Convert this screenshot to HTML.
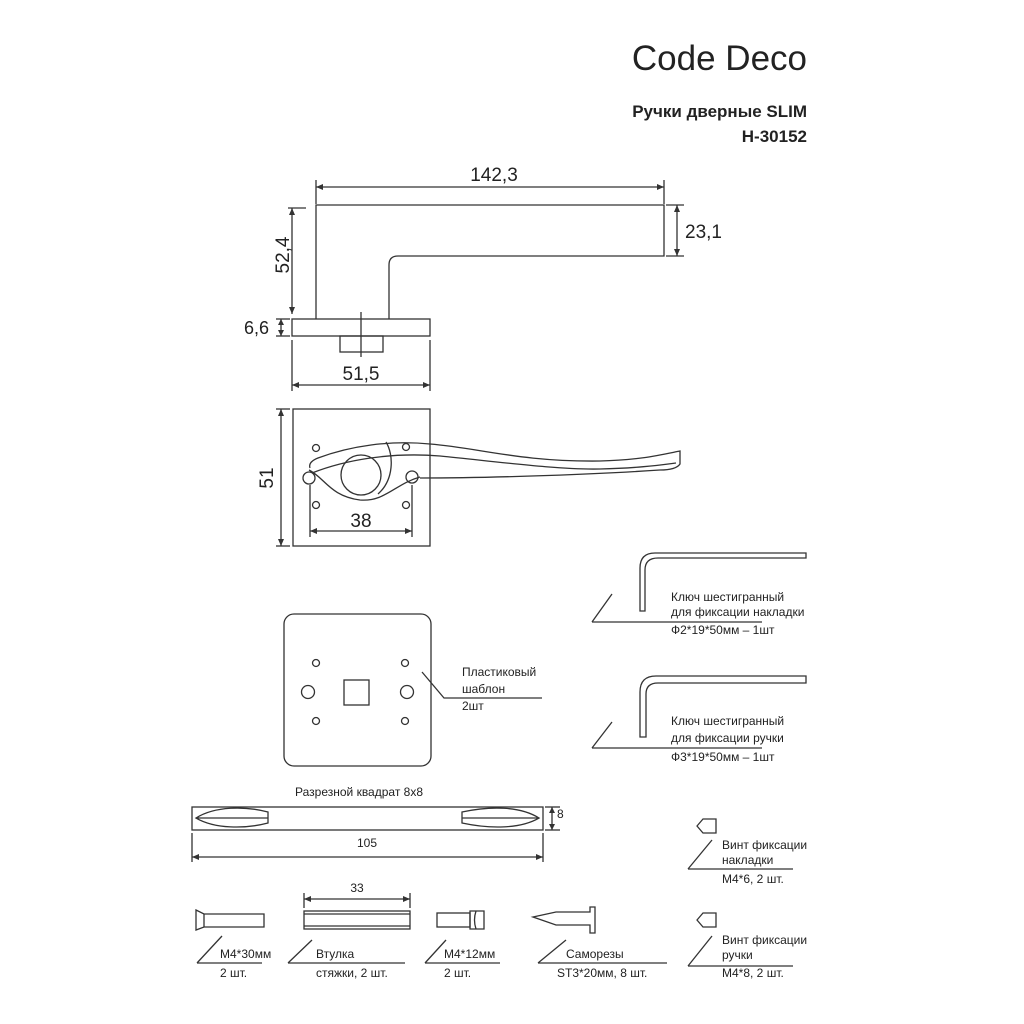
<!DOCTYPE html>
<html><head><meta charset="utf-8"><style>
html,body{margin:0;padding:0;background:#fff}
svg{display:block}
text{font-family:"Liberation Sans",sans-serif;fill:#222}
</style></head><body>
<svg width="1024" height="1024" viewBox="0 0 1024 1024" xmlns="http://www.w3.org/2000/svg">
<g fill="none" stroke="#333" stroke-width="1.3">
<path d="M316,319 V205 H664 V256 H398 Q389,256 389,265 V319"/>
<rect x="292" y="319" width="138" height="17"/>
<rect x="340" y="336" width="43" height="16"/>
<line x1="361" y1="312" x2="361" y2="357"/>
<line x1="316" y1="180" x2="316" y2="204"/><line x1="664" y1="180" x2="664" y2="204"/>
<line x1="316" y1="187" x2="664" y2="187"/>
<line x1="666" y1="205" x2="684" y2="205"/><line x1="666" y1="256" x2="684" y2="256"/>
<line x1="677" y1="205" x2="677" y2="256"/>
<line x1="288" y1="208" x2="306" y2="208"/>
<line x1="292" y1="208" x2="292" y2="314"/>
<line x1="276" y1="319" x2="290" y2="319"/><line x1="276" y1="336" x2="290" y2="336"/>
<line x1="281" y1="319" x2="281" y2="336"/>
<line x1="292" y1="340" x2="292" y2="391"/><line x1="430" y1="340" x2="430" y2="391"/>
<line x1="292" y1="385" x2="430" y2="385"/>
<rect x="293" y="409" width="137" height="137"/>
<line x1="276" y1="409" x2="290" y2="409"/><line x1="276" y1="546" x2="290" y2="546"/>
<line x1="281" y1="409" x2="281" y2="546"/>
<circle cx="316" cy="448" r="3.5"/><circle cx="406" cy="447" r="3.5"/>
<circle cx="316" cy="505" r="3.5"/><circle cx="406" cy="505" r="3.5"/>
<circle cx="309" cy="478" r="6"/><circle cx="412" cy="477" r="6"/>
<circle cx="361" cy="475" r="20"/>
<path d="M310,468 Q308,462 318,458 C350,446 390,440 430,444 C480,448 520,462 600,461 C640,460 660,455 680,451 V464 Q676,470 660,470 C600,474 500,478 420,478"/>
<path d="M312,473 C345,460 390,452 440,456 C500,462 560,470 600,469 C640,468 660,465 676,463"/>
<path d="M309,470 C325,478 330,496 360,500 C385,502 395,484 420,477"/>
<path d="M386,442 C394,455 394,480 378,494"/>
<line x1="310" y1="485" x2="310" y2="537"/><line x1="412" y1="485" x2="412" y2="537"/>
<line x1="310" y1="531" x2="412" y2="531"/>
<rect x="284" y="614" width="147" height="152" rx="10"/>
<circle cx="316" cy="663" r="3.5"/><circle cx="405" cy="663" r="3.5"/>
<circle cx="316" cy="721" r="3.5"/><circle cx="405" cy="721" r="3.5"/>
<circle cx="308" cy="692" r="6.5"/><circle cx="407" cy="692" r="6.5"/>
<rect x="344" y="680" width="25" height="25"/>
<polyline points="422,672 444,698 542,698"/>
<path d="M640,611 V568 Q640,553 655,553 H806 V558 H658 Q645,558 645,570 V611 Z"/>
<polyline points="592,622 612,594"/><line x1="592" y1="622" x2="762" y2="622"/>
<path d="M640,737 V692 Q640,676 656,676 H806 V683 H658 Q646,683 646,694 V737 Z"/>
<polyline points="592,748 612,722"/><line x1="592" y1="748" x2="762" y2="748"/>
<rect x="192" y="807" width="351" height="23"/>
<path d="M196,818 C215,806 245,806 268,812 V823 C245,829 215,829 196,818 Z M196,818 H268"/>
<path d="M539,818 C520,806 490,806 462,812 V823 C490,829 520,829 539,818 Z M539,818 H462"/>
<line x1="545" y1="807" x2="560" y2="807"/><line x1="545" y1="830" x2="560" y2="830"/>
<line x1="552" y1="807" x2="552" y2="830"/>
<line x1="192" y1="833" x2="192" y2="862"/><line x1="543" y1="833" x2="543" y2="862"/>
<line x1="192" y1="857" x2="543" y2="857"/>
<path d="M196,910 L204,914 H264 V927 H204 L196,930 Z"/>
<line x1="204" y1="914" x2="204" y2="927"/>
<polyline points="197,963 222,936"/><line x1="197" y1="963" x2="262" y2="963"/>
<rect x="304" y="911" width="106" height="18"/>
<line x1="304" y1="914" x2="410" y2="914"/><line x1="304" y1="926" x2="410" y2="926"/>
<line x1="304" y1="893" x2="304" y2="908"/><line x1="410" y1="893" x2="410" y2="908"/>
<line x1="304" y1="899" x2="410" y2="899"/>
<polyline points="288,963 312,940"/><line x1="288" y1="963" x2="405" y2="963"/>
<rect x="437" y="913" width="33" height="14"/>
<path d="M470,911 H484 V929 H470 Z M476,911 Q473,920 476,929"/>
<polyline points="425,963 446,940"/><line x1="425" y1="963" x2="500" y2="963"/>
<path d="M533,917 L556,912 H590 V907 H595 V933 H590 V925 H556 Z"/>
<polyline points="538,963 566,940"/><line x1="538" y1="963" x2="667" y2="963"/>
<path d="M697,826 L703,819 H716 V833 H703 Z"/>
<polyline points="688,869 712,840"/><line x1="688" y1="869" x2="793" y2="869"/>
<path d="M697,920 L703,913 H716 V927 H703 Z"/>
<polyline points="688,966 712,936"/><line x1="688" y1="966" x2="793" y2="966"/>
</g>
<g fill="#333">
<path d="M316,187 l7,-3 v6z M664,187 l-7,-3 v6z M677,205 l-3,7 h6z M677,256 l-3,-7 h6z M292,208 l-3,7 h6z M292,314 l-3,-7 h6z M281,319 l-3,6 h6z M281,336 l-3,-6 h6z M292,385 l7,-3 v6z M430,385 l-7,-3 v6z M281,409 l-3,7 h6z M281,546 l-3,-7 h6z M310,531 l7,-3 v6z M412,531 l-7,-3 v6z M552,807 l-3,6 h6z M552,830 l-3,-6 h6z M192,857 l7,-3 v6z M543,857 l-7,-3 v6z M304,899 l7,-3 v6z M410,899 l-7,-3 v6z"/>
</g>
<text x="807" y="70" text-anchor="end" font-size="35" fill="#333">Code Deco</text>
<text x="807" y="117" text-anchor="end" font-size="17" font-weight="bold">Ручки дверные SLIM</text>
<text x="807" y="142" text-anchor="end" font-size="17" font-weight="bold">H-30152</text>
<text x="494" y="181" text-anchor="middle" font-size="19">142,3</text>
<text x="685" y="238" font-size="19">23,1</text>
<text transform="translate(289,255) rotate(-90)" text-anchor="middle" font-size="19">52,4</text>
<text x="244" y="334" font-size="18">6,6</text>
<text x="361" y="380" text-anchor="middle" font-size="19">51,5</text>
<text transform="translate(273,478) rotate(-90)" text-anchor="middle" font-size="19">51</text>
<text x="361" y="527" text-anchor="middle" font-size="19">38</text>
<g font-size="12">
<text x="462" y="676">Пластиковый</text><text x="462" y="693">шаблон</text><text x="462" y="710">2шт</text>
<text x="671" y="601">Ключ шестигранный</text><text x="671" y="616">для фиксации накладки</text><text x="671" y="634">Ф2*19*50мм – 1шт</text>
<text x="671" y="725">Ключ шестигранный</text><text x="671" y="742">для фиксации ручки</text><text x="671" y="761">Ф3*19*50мм – 1шт</text>
<text x="295" y="796">Разрезной квадрат 8х8</text>
<text x="557" y="818">8</text>
<text x="367" y="847" text-anchor="middle">105</text>
<text x="357" y="892" text-anchor="middle">33</text>
<text x="220" y="958">M4*30мм</text><text x="220" y="977">2 шт.</text>
<text x="316" y="958">Втулка</text><text x="316" y="977">стяжки, 2 шт.</text>
<text x="444" y="958">M4*12мм</text><text x="444" y="977">2 шт.</text>
<text x="566" y="958">Саморезы</text><text x="557" y="977">ST3*20мм, 8 шт.</text>
<text x="722" y="849">Винт фиксации</text><text x="722" y="864">накладки</text><text x="722" y="883">M4*6, 2 шт.</text>
<text x="722" y="944">Винт фиксации</text><text x="722" y="959">ручки</text><text x="722" y="977">M4*8, 2 шт.</text>
</g>
</svg>
</body></html>
